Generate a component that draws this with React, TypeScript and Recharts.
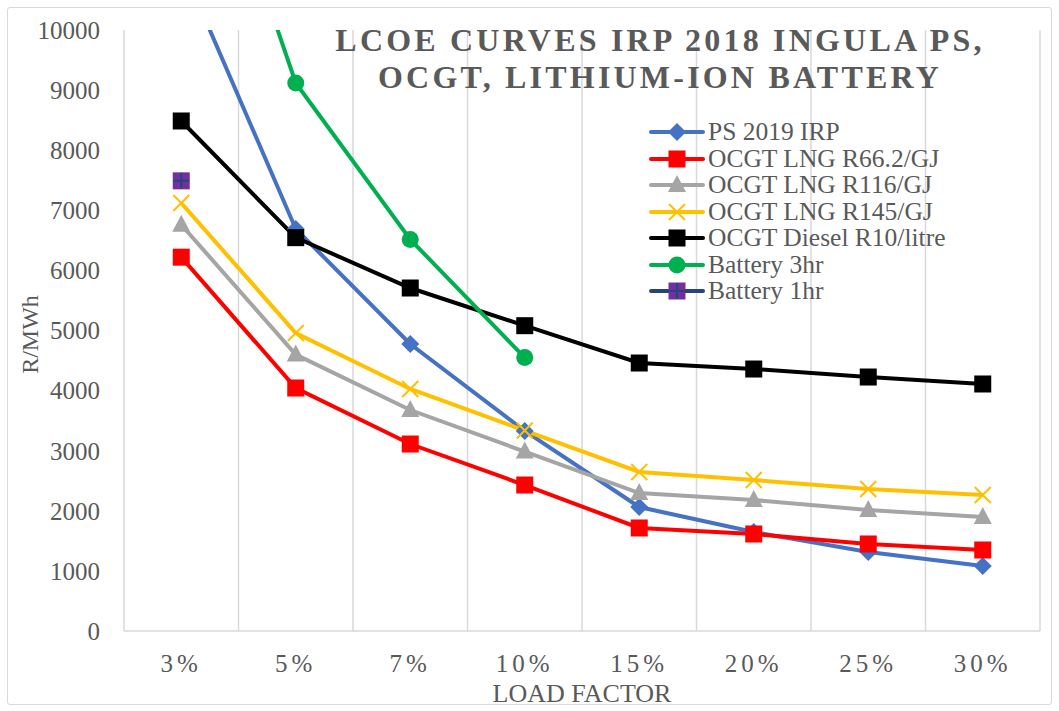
import React from 'react';
import { LineChart, Line, XAxis, YAxis, CartesianGrid, Legend } from 'recharts';

const categories = ['3%', '5%', '7%', '10%', '15%', '20%', '25%', '30%'];
const ps2019 = [11100, 6690, 4775, 3328, 2063, 1647, 1314, 1081];
const ocgtLng662 = [6220, 4043, 3111, 2429, 1714, 1614, 1448, 1348];
const ocgtLng116 = [6760, 4600, 3677, 2985, 2296, 2180, 2013, 1897];
const ocgtLng145 = [7121, 4958, 4027, 3335, 2646, 2512, 2363, 2263];
const ocgtDiesel = [8486, 6545, 5707, 5080, 4459, 4359, 4226, 4110];
const battery3hr = [14700, 9118, 6515, 4550, null, null, null, null];
const battery1hr = [7490, null, null, null, null, null, null, null];
const yTicks = [0, 1000, 2000, 3000, 4000, 5000, 6000, 7000, 8000, 9000, 10000];

const data = categories.map((c, i) => ({
  cat: c,
  ps: ps2019[i],
  r66: ocgtLng662[i],
  r116: ocgtLng116[i],
  r145: ocgtLng145[i],
  diesel: ocgtDiesel[i],
  b3: battery3hr[i],
  b1: battery1hr[i],
}));

const FONT = '"Liberation Serif", "Times New Roman", serif';
const TXT = '#595959';

type MarkerKind = 'diamond' | 'square' | 'triangle' | 'x' | 'circle' | 'plusSquare';

function drawMarker(kind: MarkerKind, cx: number, cy: number, color: string, key?: any) {
  switch (kind) {
    case 'diamond':
      return <path key={key} d={`M${cx},${cy - 9}L${cx + 9},${cy}L${cx},${cy + 9}L${cx - 9},${cy}Z`} fill={color} />;
    case 'square':
      return <rect key={key} x={cx - 8.5} y={cy - 8.5} width={17} height={17} fill={color} />;
    case 'triangle':
      return <path key={key} d={`M${cx},${cy - 10}L${cx + 9},${cy + 7}L${cx - 9},${cy + 7}Z`} fill={color} />;
    case 'x':
      return (
        <g key={key}>
          <path d={`M${cx - 8},${cy - 8}L${cx + 8},${cy + 8}M${cx - 8},${cy + 8}L${cx + 8},${cy - 8}`} stroke={color} strokeWidth={2} />
        </g>
      );
    case 'circle':
      return <circle key={key} cx={cx} cy={cy} r={8.5} fill={color} />;
    case 'plusSquare':
      return (
        <g key={key}>
          <rect x={cx - 8.5} y={cy - 8.5} width={17} height={17} fill="#7030A0" />
          <path d={`M${cx - 8},${cy}L${cx + 8},${cy}M${cx},${cy - 8}L${cx},${cy + 8}`} stroke="#264478" strokeWidth={2} />
        </g>
      );
  }
  return null;
}

const makeDot = (kind: MarkerKind, color: string) => (props: any) => {
  const { cx, cy, value, index } = props;
  if (cx == null || cy == null || value == null || (Array.isArray(value) && value[1] == null)) {
    return <g key={`e-${index}`} />;
  }
  return drawMarker(kind, cx, cy, color, `d-${index}`);
};

const seriesDefs: { key: string; name: string; color: string; marker: MarkerKind }[] = [
  { key: 'ps', name: 'PS 2019 IRP', color: '#4472C4', marker: 'diamond' },
  { key: 'r66', name: 'OCGT LNG R66.2/GJ', color: '#FF0000', marker: 'square' },
  { key: 'r116', name: 'OCGT LNG R116/GJ', color: '#A5A5A5', marker: 'triangle' },
  { key: 'r145', name: 'OCGT LNG R145/GJ', color: '#FFC000', marker: 'x' },
  { key: 'diesel', name: 'OCGT Diesel R10/litre', color: '#000000', marker: 'square' },
  { key: 'b3', name: 'Battery 3hr', color: '#00B050', marker: 'circle' },
  { key: 'b1', name: 'Battery 1hr', color: '#264478', marker: 'plusSquare' },
];

const LegendContent = () => (
  <div style={{ fontFamily: FONT }}>
    {seriesDefs.map((s) => (
      <div key={s.key} style={{ display: 'flex', alignItems: 'center', height: 26.5 }}>
        <svg width={58} height={26} style={{ display: 'block' }}>
          <line x1={3} y1={13} x2={55} y2={13} stroke={s.color} strokeWidth={4} strokeLinecap="round" />
          {drawMarker(s.marker, 29, 13, s.color)}
        </svg>
        <span style={{ fontSize: 25.5, color: TXT, marginLeft: 2, lineHeight: '26.5px', whiteSpace: 'nowrap' }}>{s.name}</span>
      </div>
    ))}
  </div>
);

export default function App() {
  const n = categories.length;
  return (
    <div style={{ position: 'absolute', left: 0, top: 0, width: 1059, height: 711, background: '#fff', overflow: 'hidden' }}>
      <div style={{ position: 'absolute', left: 7, top: 7, width: 1043, height: 696, border: '1.5px solid #d9d9d9', borderRadius: 3 }} />
      <LineChart
        width={1059}
        height={711}
        data={data}
        margin={{ top: 30, right: 19, bottom: 20, left: 0 }}
        style={{ position: 'absolute', left: 0, top: 0 }}
      >
        <CartesianGrid
          horizontal={false}
          stroke="#d9d9d9"
          strokeWidth={1.5}
          verticalCoordinatesGenerator={({ offset }: any) =>
            Array.from({ length: n + 1 }, (_, i) => offset.left + (offset.width * i) / n)
          }
        />
        <XAxis
          dataKey="cat"
          scale="band"
          height={60}
          axisLine={{ stroke: '#d9d9d9', strokeWidth: 1.5 }}
          tickLine={false}
          tickSize={0}
          tickMargin={23}
          tick={{ fill: TXT, fontSize: 25, fontFamily: FONT, letterSpacing: 4 }}
          interval={0}
          label={{
            content: ({ viewBox }: any) => (
              <text
                x={viewBox.x + viewBox.width / 2}
                y={viewBox.y + 71}
                textAnchor="middle"
                fill={TXT}
                fontSize={26}
                fontFamily={FONT}
              >
                LOAD FACTOR
              </text>
            ),
          }}
        />
        <YAxis
          width={124}
          domain={[0, 10000]}
          ticks={yTicks}
          allowDataOverflow
          axisLine={false}
          tickLine={false}
          tickSize={0}
          tickMargin={24}
          tick={{ fill: TXT, fontSize: 25, fontFamily: FONT }}
          label={{
            content: ({ viewBox }: any) => {
              const x = 38;
              const y = viewBox.y + viewBox.height / 2 + 4;
              return (
                <text
                  x={x}
                  y={y}
                  transform={`rotate(-90 ${x} ${y})`}
                  textAnchor="middle"
                  fill={TXT}
                  fontSize={24}
                  fontFamily={FONT}
                >
                  R/MWh
                </text>
              );
            },
          }}
        />
        <Legend
          layout="vertical"
          verticalAlign="middle"
          align="center"
          content={<LegendContent />}
          wrapperStyle={{ position: 'absolute', left: 648, top: 119, width: 340 }}
        />
        {seriesDefs.map((s) => (
          <Line
            key={s.key}
            dataKey={s.key}
            name={s.name}
            stroke={s.color}
            strokeWidth={4}
            dot={makeDot(s.marker, s.color)}
            activeDot={false}
            isAnimationActive={false}
            connectNulls={false}
          />
        ))}
      </LineChart>
      <svg width={1059} height={711} style={{ position: 'absolute', left: 0, top: 0, pointerEvents: 'none' }}>
        <text x={660} y={51} textAnchor="middle" fontFamily={FONT} fontWeight="bold" fontSize={32} letterSpacing={3.2} fill={TXT}>
          LCOE CURVES IRP 2018 INGULA PS,
        </text>
        <text x={660} y={88} textAnchor="middle" fontFamily={FONT} fontWeight="bold" fontSize={32} letterSpacing={3.2} fill={TXT}>
          OCGT, LITHIUM-ION BATTERY
        </text>
      </svg>
    </div>
  );
}
